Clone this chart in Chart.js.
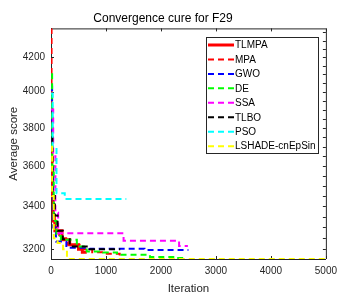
<!DOCTYPE html>
<html>
<head>
<meta charset="utf-8">
<script src="https://cdn.jsdelivr.net/npm/chart.js@4"></script>
<style>
  body { margin: 0; background: #fff; }
  canvas { display: block; }
</style>
</head>
<body>
<canvas id="conv" width="343" height="301"></canvas>
<script>
  // series names (legend order)
  const names = ['TLMPA', 'MPA', 'GWO', 'DE', 'SSA', 'TLBO', 'PSO', 'LSHADE-cnEpSin'];

  // iteration / average score
  const tlmpaIter = [1, 15, 40, 70, 200, 340, 500, 570, 650];
  const tlmpaScore = [3700, 3450, 3330, 3285, 3243, 3220, 3200, 3186, 3186];

  const mpaIter = [1, 10, 30, 70, 150, 300, 520, 750, 950, 1250];
  const mpaScore = [4375, 3900, 3450, 3300, 3250, 3220, 3200, 3186, 3180, 3172];

  const gwoIter = [1, 20, 40, 90, 280, 700, 1700, 2500];
  const gwoScore = [4030, 3600, 3300, 3235, 3207, 3202, 3197, 3197];

  const deIter = [1, 20, 50, 100, 180, 470, 650, 950, 1200, 1800, 2250, 2420];
  const deScore = [4100, 3600, 3330, 3260, 3243, 3212, 3190, 3185, 3175, 3165, 3160, 3160];

  const ssaIter = [1, 40, 80, 130, 1320, 2330, 2490];
  const ssaScore = [3900, 3650, 3370, 3273, 3239, 3215, 3215];

  const tlboIter = [1, 25, 70, 120, 215, 340, 700, 1260];
  const tlboScore = [3750, 3450, 3356, 3285, 3245, 3212, 3200, 3200];

  const psoIter = [1, 30, 100, 250, 1370];
  const psoScore = [3990, 3700, 3464, 3436, 3436];

  const lshadeIter = [1, 20, 50, 120, 220, 290, 5000];
  const lshadeScore = [3700, 3450, 3250, 3228, 3200, 3156, 3156];

  const xTicks = [0, 1000, 2000, 3000, 4000, 5000];
  const yTicks = [3200, 3400, 3600, 3800, 4000, 4200];

  const axisColor = '#262626';
  const font = 'Liberation Sans, Arial, sans-serif';

  const iters = [tlmpaIter, mpaIter, gwoIter, deIter, ssaIter, tlboIter, psoIter, lshadeIter];
  const scores = [tlmpaScore, mpaScore, gwoScore, deScore, ssaScore, tlboScore, psoScore, lshadeScore];
  const colors = ['#ff0000', '#ff0000', '#0000ff', '#00ff00', '#ff00ff', '#000000', '#00ffff', '#ffff00'];

  const datasets = names.map(function (name, i) {
    return {
      label: name,
      data: iters[i].map(function (x, j) { return { x: x, y: scores[i][j] }; }),
      borderColor: colors[i],
      backgroundColor: colors[i],
      borderWidth: i === 0 ? 3 : 2,
      borderDash: i === 0 ? [] : [6, 4],
      stepped: true,
      pointRadius: 0,
      fill: false,
      order: names.length - i
    };
  });

  // inward tick marks + top/right box edges, like a matlab axes box
  const boxTicks = {
    id: 'boxTicks',
    beforeDatasetsDraw: function (chart) {
      const ctx = chart.ctx;
      const a = chart.chartArea;
      const xs = chart.scales.x, ys = chart.scales.y;
      ctx.save();
      ctx.strokeStyle = axisColor;
      ctx.lineWidth = 1;
      ctx.beginPath();
      ctx.moveTo(a.left, a.top + 0.5);
      ctx.lineTo(a.right + 0.5, a.top + 0.5);
      ctx.lineTo(a.right + 0.5, a.bottom);
      xTicks.forEach(function (v) {
        const px = Math.round(xs.getPixelForValue(v)) + 0.5;
        ctx.moveTo(px, a.bottom); ctx.lineTo(px, a.bottom - 3);
        ctx.moveTo(px, a.top); ctx.lineTo(px, a.top + 3);
      });
      yTicks.forEach(function (v) {
        const py = Math.round(ys.getPixelForValue(v)) + 0.5;
        ctx.moveTo(a.left, py); ctx.lineTo(a.left + 3, py);
      });
      for (let v = 3200; v <= 4350; v += 50) {
        const py = Math.round(ys.getPixelForValue(v)) + 0.5;
        ctx.moveTo(a.right, py); ctx.lineTo(a.right - 3, py);
      }
      ctx.stroke();
      ctx.restore();
    }
  };

  const boxLegend = {
    id: 'boxLegend',
    afterDraw: function (chart) {
      const ctx = chart.ctx;
      const left = 206.5, top = 37.5, w = 112, h = 116;
      ctx.save();
      ctx.fillStyle = '#fff';
      ctx.fillRect(left, top, w, h);
      ctx.strokeStyle = axisColor;
      ctx.lineWidth = 1;
      ctx.strokeRect(left, top, w, h);
      ctx.font = '10px ' + font;
      ctx.textBaseline = 'middle';
      chart.data.datasets.forEach(function (ds, i) {
        const y = 45 + i * 14.45;
        ctx.strokeStyle = ds.borderColor;
        ctx.lineWidth = ds.borderWidth;
        ctx.setLineDash(ds.borderDash);
        ctx.beginPath();
        ctx.moveTo(208, y);
        ctx.lineTo(234, y);
        ctx.stroke();
        ctx.setLineDash([]);
        ctx.fillStyle = '#000';
        ctx.fillText(ds.label, 235, y + 0.5);
      });
      ctx.restore();
    }
  };

  new Chart(document.getElementById('conv'), {
    type: 'line',
    data: { datasets: datasets },
    options: {
      responsive: false,
      animation: false,
      layout: { padding: { left: 0, right: 17, top: 0, bottom: 0 } },
      plugins: {
        legend: { display: false },
        tooltip: { enabled: false },
        title: {
          display: true,
          text: 'Convergence cure for F29',
          color: '#000',
          font: { family: font, size: 12, weight: 'normal' },
          padding: { top: 11, bottom: 3 }
        }
      },
      scales: {
        x: {
          type: 'linear',
          min: 0,
          max: 5000,
          afterFit: function (s) { s.height = 42; },
          afterBuildTicks: function (s) { s.ticks = xTicks.map(function (v) { return { value: v }; }); },
          grid: { display: false, drawTicks: false },
          border: { display: true, color: axisColor, width: 1 },
          ticks: {
            color: axisColor, font: { family: font, size: 10 }, padding: 6, maxRotation: 0,
            callback: function (v) { return String(v); }
          },
          title: {
            display: true, text: 'Iteration', color: axisColor,
            font: { family: font, size: 11.5 }, padding: { top: 0, bottom: 5 }
          }
        },
        y: {
          type: 'logarithmic',
          min: 3156,
          max: 4375,
          afterFit: function (s) { s.width = 51; },
          afterBuildTicks: function (s) { s.ticks = yTicks.map(function (v) { return { value: v }; }); },
          grid: { display: false, drawTicks: false },
          border: { display: true, color: axisColor, width: 1 },
          ticks: {
            color: axisColor, font: { family: font, size: 10 }, padding: 6,
            callback: function (v) { return String(v); }
          },
          title: {
            display: true, text: 'Average score', color: axisColor,
            font: { family: font, size: 11.5 }, padding: { top: 7, bottom: 0 }
          }
        }
      }
    },
    plugins: [boxTicks, boxLegend]
  });
</script>
</body>
</html>
